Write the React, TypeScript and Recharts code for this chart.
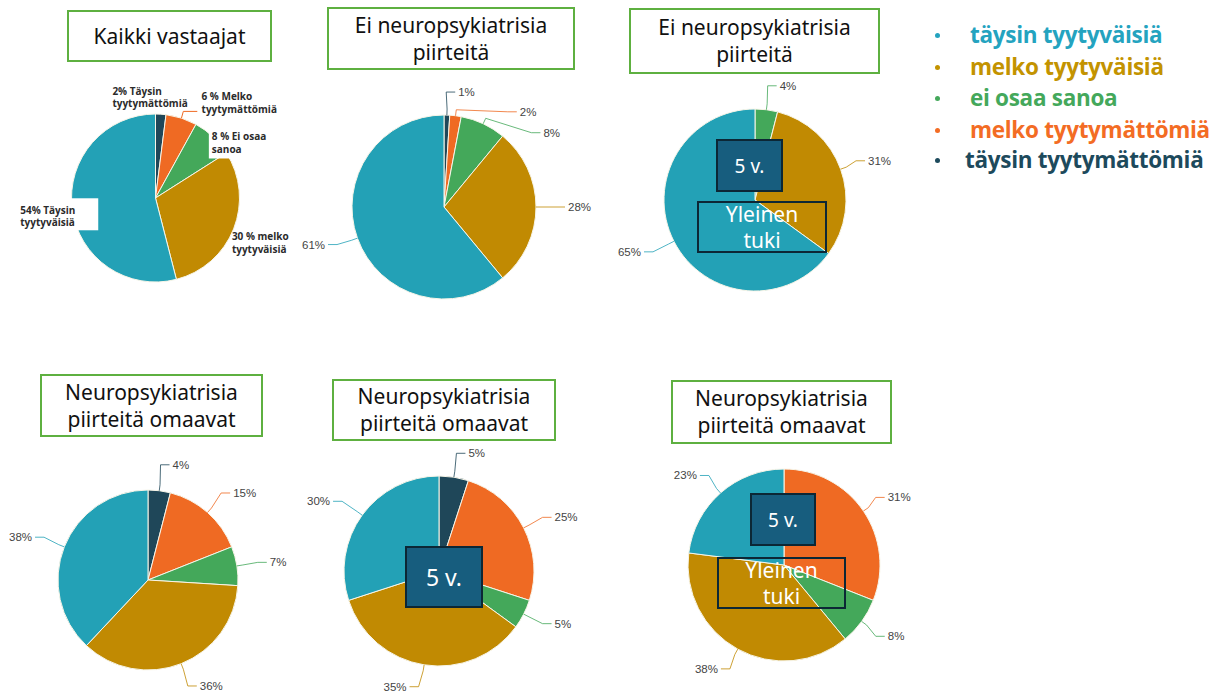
import React from "react";
import { PieChart, Pie, Cell } from "recharts";

const W = 1230;
const H = 695;

// ---- data ----
const CATEGORIES = [
  "täysin tyytymättömiä",
  "melko tyytymättömiä",
  "ei osaa sanoa",
  "melko tyytyväisiä",
  "täysin tyytyväisiä",
];
const LEGEND_ORDER = [4, 3, 2, 1, 0];
const LEGEND_LABELS = [
  "täysin tyytyväisiä",
  "melko tyytyväisiä",
  "ei osaa sanoa",
  "melko tyytymättömiä",
  "täysin tyytymättömiä",
];

const kaikkiVastaajat = [2, 6, 8, 30, 54];
const eiNeuro = [1, 2, 8, 28, 61];
const eiNeuro5vYleinen = [0, 0, 4, 31, 65];
const neuro = [4, 15, 7, 36, 38];
const neuro5v = [5, 25, 5, 35, 30];
const neuro5vYleinen = [0, 31, 8, 38, 23];

const kaikkiLabelTexts = [
  ["2% Täysin", "tyytymättömiä"],
  ["6 % Melko", "tyytymättömiä"],
  ["8 % Ei osaa", "sanoa"],
  ["30 % melko", "tyytyväisiä"],
  ["54% Täysin", "tyytyväisiä"],
];

const TITLES = [
  ["Kaikki vastaajat"],
  ["Ei neuropsykiatrisia", "piirteitä"],
  ["Ei neuropsykiatrisia", "piirteitä"],
  ["Neuropsykiatrisia", "piirteitä omaavat"],
  ["Neuropsykiatrisia", "piirteitä omaavat"],
  ["Neuropsykiatrisia", "piirteitä omaavat"],
];

// ---- styles / layout ----
const COLORS = ["#1f4759", "#ef6a23", "#44a85a", "#c18a02", "#23a1b6"];
const LEGEND_COLORS = ["#24a3bf", "#c39300", "#44a85b", "#f36c24", "#1d4a5c"];

type ChartCfg = {
  values: number[];
  cx: number;
  cy: number;
  r: number;
  bold?: boolean;
  nudges: number[][];
  bg?: (number[] | null)[];
  leader?: boolean[];
};

const CHARTS: ChartCfg[] = [
  {
    values: kaikkiVastaajat,
    cx: 155.5,
    cy: 198,
    r: 84,
    bold: true,
    nudges: [[-65, -7], [1, -6], [-24, 13], [-27, 10], [-26, 6]],
    bg: [null, null, [-3, -18, 50, 34], null, [-6, -17.5, 84, 32]],
    leader: [false, true, false, false, false],
  },
  { values: eiNeuro, cx: 444, cy: 207, r: 92, nudges: [[-5, -13], [47, 6], [40, 18], [6, 0], [-7, 3]] },
  { values: eiNeuro5vYleinen, cx: 755, cy: 200, r: 91, nudges: [[0, 0], [0, 0], [-4, -14], [2, -5], [-8, 6]] },
  { values: neuro, cx: 148, cy: 580, r: 90, nudges: [[-4, -16], [3, -12], [7, -2], [-1, 13], [-7, -6]] },
  { values: neuro5v, cx: 439, cy: 571, r: 95, nudges: [[-3, -14], [6, -6], [6, 5], [0, 12], [-8, -8]] },
  { values: neuro5vYleinen, cx: 784, cy: 565, r: 96, nudges: [[0, 0], [0, -8], [2, 9], [1, 11], [-1, -10]] },
];

const TITLE_BOXES = [
  { left: 67, top: 10, w: 205, h: 52 },
  { left: 327, top: 7, w: 248, h: 63 },
  { left: 629, top: 8, w: 251, h: 66 },
  { left: 40, top: 374, w: 223, h: 63 },
  { left: 332, top: 379, w: 224, h: 62 },
  { left: 671, top: 380, w: 221, h: 64 },
];

const BOXES_5V = [
  { left: 716, top: 139, w: 67, h: 53, fs: 19 },
  { left: 405, top: 546, w: 78, h: 62, fs: 23 },
  { left: 750, top: 493, w: 66, h: 53, fs: 19 },
];
const BOXES_YLEINEN = [
  { left: 697, top: 201, w: 130, h: 52 },
  { left: 717, top: 557, w: 129, h: 52 },
];

const LEGEND_ROWS = [
  { y: 35, x: 970 },
  { y: 67, x: 970 },
  { y: 98, x: 970 },
  { y: 130, x: 970 },
  { y: 160, x: 965 },
];

const RAD = Math.PI / 180;

function makeLabel(cfg: ChartCfg) {
  return (props: any) => {
    const { cx, cy, midAngle, outerRadius } = props;
    const cat: number = props.cat ?? props.payload?.cat;
    const value: number = props.value ?? props.payload?.value;
    const cos = Math.cos(-midAngle * RAD);
    const sin = Math.sin(-midAngle * RAD);
    const sign = cos >= 0 ? 1 : -1;
    const p0 = [cx + outerRadius * cos, cy + outerRadius * sin];
    const q = [cx + (outerRadius + 6) * cos, cy + (outerRadius + 6) * sin];
    const p1 = [cx + (outerRadius + 10) * cos, cy + (outerRadius + 10) * sin];
    const n = cfg.nudges[cat] || [0, 0];
    const tx = p1[0] + sign * 16 + n[0];
    const ty = p1[1] + n[1];
    const color = COLORS[cat];
    if (cfg.bold) {
      const lines = kaikkiLabelTexts[cat];
      const bg = cfg.bg ? cfg.bg[cat] : null;
      const lead = cfg.leader ? cfg.leader[cat] : false;
      return (
        <g>
          {bg && <rect x={tx + bg[0]} y={ty + bg[1]} width={bg[2]} height={bg[3]} fill="#ffffff" />}
          {lead && (
            <polyline
              points={`${p0[0]},${p0[1]} ${q[0]},${q[1] - 1} ${q[0] + 14},${q[1] - 1}`}
              fill="none"
              stroke={color}
              strokeWidth={1}
            />
          )}
          {lines.map((l, i) => (
            <text
              key={i}
              x={tx}
              y={ty + (i === 0 ? -6.25 : 6.25)}
              textAnchor="start"
              dominantBaseline="central"
              fontFamily="'Open Sans', sans-serif"
              fontWeight={700}
              fontSize={10}
              fill="#2b2b2b"
            >
              {l}
            </text>
          ))}
        </g>
      );
    }
    const h = [tx - sign * 12, ty];
    const e = [tx - sign * 3, ty];
    return (
      <g>
        <polyline
          points={`${p0[0]},${p0[1]} ${q[0]},${q[1]} ${h[0]},${h[1]} ${e[0]},${e[1]}`}
          fill="none"
          stroke={color}
          strokeWidth={1}
          opacity={0.8}
        />
        <text
          x={tx}
          y={ty}
          textAnchor={sign > 0 ? "start" : "end"}
          dominantBaseline="central"
          fontFamily="'Liberation Sans', Arial, sans-serif"
          fontSize={11.5}
          fill="#444444"
        >
          {`${value}%`}
        </text>
      </g>
    );
  };
}

export default function App() {
  return (
    <div
      style={{
        position: "absolute",
        left: 0,
        top: 0,
        width: W,
        height: H,
        background: "#ffffff",
        overflow: "hidden",
        fontFamily: "'Noto Sans', sans-serif",
      }}
    >
      <PieChart width={W} height={H} margin={{ top: 0, right: 0, bottom: 0, left: 0 }}>
        {CHARTS.map((cfg, ci) => {
          const data = CATEGORIES.map((name, i) => ({ cat: i, name, value: cfg.values[i] })).filter(
            (d) => d.value > 0
          );
          return (
            <Pie
              key={ci}
              data={data}
              dataKey="value"
              nameKey="name"
              cx={cfg.cx}
              cy={cfg.cy}
              innerRadius={0}
              outerRadius={cfg.r}
              startAngle={90}
              endAngle={-270}
              stroke="#f7f5e8"
              strokeWidth={1}
              isAnimationActive={false}
              label={makeLabel(cfg)}
              labelLine={false}
            >
              {data.map((d) => (
                <Cell key={d.cat} fill={COLORS[d.cat]} />
              ))}
            </Pie>
          );
        })}
      </PieChart>

      {TITLE_BOXES.map((b, i) => (
        <div
          key={"t" + i}
          style={{
            position: "absolute",
            left: b.left,
            top: b.top,
            width: b.w,
            height: b.h,
            boxSizing: "border-box",
            border: "2px solid #5eb040",
            background: "#ffffff",
            display: "flex",
            flexDirection: "column",
            justifyContent: "center",
            alignItems: "center",
            fontSize: 21,
            lineHeight: "27px",
            color: "#111111",
            textAlign: "center",
            whiteSpace: "nowrap",
          }}
        >
          {TITLES[i].map((t, j) => (
            <div key={j}>{t}</div>
          ))}
        </div>
      ))}

      {BOXES_5V.map((b, i) => (
        <div
          key={"v" + i}
          style={{
            position: "absolute",
            left: b.left,
            top: b.top,
            width: b.w,
            height: b.h,
            boxSizing: "border-box",
            border: "2px solid #0c2735",
            background: "#175d7e",
            color: "#ffffff",
            display: "flex",
            justifyContent: "center",
            alignItems: "center",
            fontSize: b.fs,
          }}
        >
          5 v.
        </div>
      ))}

      {BOXES_YLEINEN.map((b, i) => (
        <div
          key={"y" + i}
          style={{
            position: "absolute",
            left: b.left,
            top: b.top,
            width: b.w,
            height: b.h,
            boxSizing: "border-box",
            border: "2px solid #0c2735",
            color: "#ffffff",
            display: "flex",
            flexDirection: "column",
            justifyContent: "center",
            alignItems: "center",
            fontSize: 21,
            lineHeight: "26px",
          }}
        >
          <div>Yleinen</div>
          <div>tuki</div>
        </div>
      ))}

      {LEGEND_ORDER.map((cat, i) => (
        <div key={"l" + i}>
          <div
            style={{
              position: "absolute",
              left: 935,
              top: LEGEND_ROWS[i].y - 2.5,
              width: 5,
              height: 5,
              borderRadius: "50%",
              background: LEGEND_COLORS[i],
            }}
          />
          <div
            style={{
              position: "absolute",
              left: LEGEND_ROWS[i].x,
              top: LEGEND_ROWS[i].y - 15,
              height: 30,
              lineHeight: "30px",
              fontFamily: "'Open Sans', sans-serif",
              fontWeight: 700,
              fontSize: 22.5,
              letterSpacing: "-0.3px",
              color: LEGEND_COLORS[i],
              whiteSpace: "nowrap",
            }}
            title={CATEGORIES[cat]}
          >
            {LEGEND_LABELS[i]}
          </div>
        </div>
      ))}
    </div>
  );
}
